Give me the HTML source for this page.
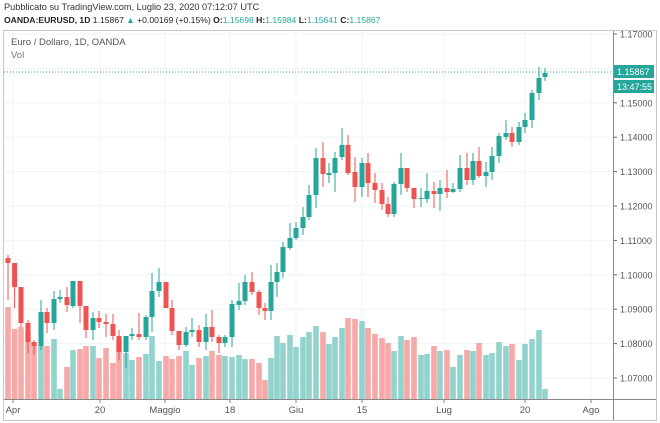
<!DOCTYPE html>
<html><head><meta charset="utf-8"><style>
body{margin:0;background:#fff;width:660px;height:423px;overflow:hidden;font-family:"Liberation Sans",sans-serif}
svg{position:absolute;left:0;top:0}
</style></head><body>
<svg id="s" width="660" height="423" xmlns="http://www.w3.org/2000/svg" font-family="Liberation Sans, sans-serif"></svg>
<script>
const G='#26a69a',R='#ef5350',VG='#92d3cd',VR='#f6a9a7';
const C=[
[8,258,263,255,300,'r',307],[14.6,263,287,263,308,'r',329],[21,287,323,287,327,'r',327],[28,323,342,320,353,'r',333],[34,342,346,340,355,'r',343],
[41,312,346,300,350,'g',346],[47,312,323,308,333,'r',346],[54,299,323,291,330,'g',339],[60,297,299,290,303,'g',389],[67,297,305,287,312,'r',367],
[73,281,306,281,308,'g',350],[80,281,306,281,323,'r',349],[86,306,330,306,338,'r',346],[93,318,330,312,340,'g',346],[99,318,322,311,328,'r',358],
[106,322,324,314,337,'r',348],[113,324,336,314,340,'r',363],[119,336,352,330,360,'r',339],[126,336,352,336,368,'g',353],[132,334,336,328,340,'g',360],
[139,334,337,313,340,'r',357],[146,317,337,315,340,'g',354],[152,291,317,273,332,'g',336],[159,282,291,268,297,'g',361],[166,282,308,282,308,'r',356],
[172,308,331,300,335,'r',359],[179,331,345,331,350,'r',356],[186,332,345,327,347,'g',351],[192,330,332,318,337,'g',365],[199,330,342,325,347,'r',358],
[206,327,342,314,350,'g',356],[212,327,337,310,342,'r',351],[219,337,343,335,353,'r',355],[225,337,343,335,347,'g',356],[232,304,337,300,347,'g',357],
[239,301,305,283,310,'g',355],[245,282,301,275,305,'g',359],[252,282,292,272,295,'r',359],[259,292,308,290,315,'r',363],[265,308,311,303,320,'r',380],
[271,282,311,265,320,'g',358],[277,272,282,263,297,'g',336],[283,247,272,242,278,'g',343],[290,238,248,223,250,'g',335],[296,228,238,222,240,'g',347],
[303,217,228,207,235,'g',337],[309,195,217,185,220,'g',332],[316,158,195,148,208,'g',326],[323,158,174,142,187,'r',332],[329,173,175,163,183,'g',344],
[335,158,173,152,192,'g',337],[342,145,157,128,160,'g',328],[348,145,173,135,175,'r',318],[355,172,187,157,202,'r',319],[362,163,187,158,197,'g',321],
[368,163,183,153,197,'r',328],[375,183,190,173,203,'r',334],[382,190,204,183,210,'r',338],[388,204,214,197,217,'r',343],[394,184,214,182,217,'g',351],
[401,168,184,153,195,'g',336],[407,168,188,168,192,'r',340],[414,188,199,188,208,'r',337],[421,198,199,188,207,'g',355],[427,191,199,173,203,'g',354],
[434,191,194,182,208,'r',346],[440,188,194,180,211,'g',351],[447,188,192,170,198,'r',350],[453,189,192,183,193,'g',367],[460,168,189,155,192,'g',355],
[467,168,180,153,185,'r',350],[473,161,180,153,185,'g',351],[479,161,176,147,178,'r',343],[486,172,176,162,187,'g',355],[492,156,172,147,180,'g',353],
[499,136,156,133,163,'g',342],[506,133,137,120,140,'g',346],[512,133,142,127,147,'r',344],[519,127,142,122,145,'g',360],[525,120,127,113,133,'g',344],
[532,93,120,90,128,'g',339],[539,78,93,67,100,'g',330],[545,73,77,68,81,'g',389]];
let h='';
h+='<rect x="3.5" y="30.5" width="653" height="390" fill="none" stroke="#c8c8c8"/>';
const vx=[13,100,165,230,296,362,444,525,591];
vx.forEach(x=>h+=`<line x1="${x}" y1="31" x2="${x}" y2="400" stroke="#f0f3f5"/>`);
for(let i=0;i<11;i++){const p=1.17-i*0.01;const y=34+i*34.4;
 h+=`<line x1="4" y1="${y}" x2="613" y2="${y}" stroke="#f0f3f5"/>`;
 h+=`<line x1="613" y1="${y}" x2="617" y2="${y}" stroke="#666"/>`;
 h+=`<text x="620" y="${y+3.5}" font-size="9" fill="#555">${p.toFixed(5)}</text>`;}
C.forEach(c=>h+=`<rect x="${c[0]-2.8}" y="${c[6]}" width="5.6" height="${399-c[6]}" fill="${c[5]=='g'?VG:VR}"/>`);
C.forEach(c=>{const col=c[5]=='g'?G:R;
 h+=`<line x1="${c[0]}" y1="${c[3]}" x2="${c[0]}" y2="${c[4]}" stroke="${col}"/>`;
 h+=`<rect x="${c[0]-2.5}" y="${c[1]}" width="5" height="${Math.max(1,c[2]-c[1])}" fill="${col}"/>`;});
h+='<line x1="613.5" y1="31" x2="613.5" y2="420" stroke="#888"/>';
h+='<line x1="4" y1="399.5" x2="656" y2="399.5" stroke="#888"/>';
const xl=[[13,'Apr'],[100,'20'],[165,'Maggio'],[230,'18'],[296,'Giu'],[362,'15'],[444,'Lug'],[525,'20'],[591,'Ago']];
xl.forEach(a=>h+=`<line x1="${a[0]}" y1="400" x2="${a[0]}" y2="403" stroke="#888"/><text x="${a[0]}" y="413" font-size="9.5" fill="#555" text-anchor="middle">${a[1]}</text>`);
h+='<line x1="4" y1="72" x2="613" y2="72" stroke="#26a69a" stroke-dasharray="1,2"/>';
h+='<rect x="614" y="65" width="40" height="13" fill="#26a69a"/><text x="617" y="75" font-size="9" fill="#fff">1.15867</text>';
h+='<rect x="614" y="80" width="40" height="13" fill="#26a69a"/><text x="617" y="90" font-size="9" fill="#fff">13:47:55</text>';
h+='<text x="4" y="10" font-size="9.2" fill="#333">Pubblicato su TradingView.com, Luglio 23, 2020 07:12:07 UTC</text>';
h+='<text x="4" y="23" font-size="8.6" fill="#222"><tspan font-weight="bold">OANDA:EURUSD, 1D</tspan> 1.15867 <tspan fill="#26a69a">▲</tspan> +0.00169 (+0.15%) <tspan font-weight="bold">O:</tspan><tspan fill="#26a69a">1.15698</tspan> <tspan font-weight="bold">H:</tspan><tspan fill="#26a69a">1.15984</tspan> <tspan font-weight="bold">L:</tspan><tspan fill="#26a69a">1.15641</tspan> <tspan font-weight="bold">C:</tspan><tspan fill="#26a69a">1.15867</tspan></text>';
h+='<text x="11" y="45" font-size="9.5" fill="#555">Euro / Dollaro, 1D, OANDA</text>';
h+='<text x="11" y="58" font-size="9.5" fill="#777">Vol</text>';
document.getElementById('s').innerHTML=h;
</script>
</body></html>
